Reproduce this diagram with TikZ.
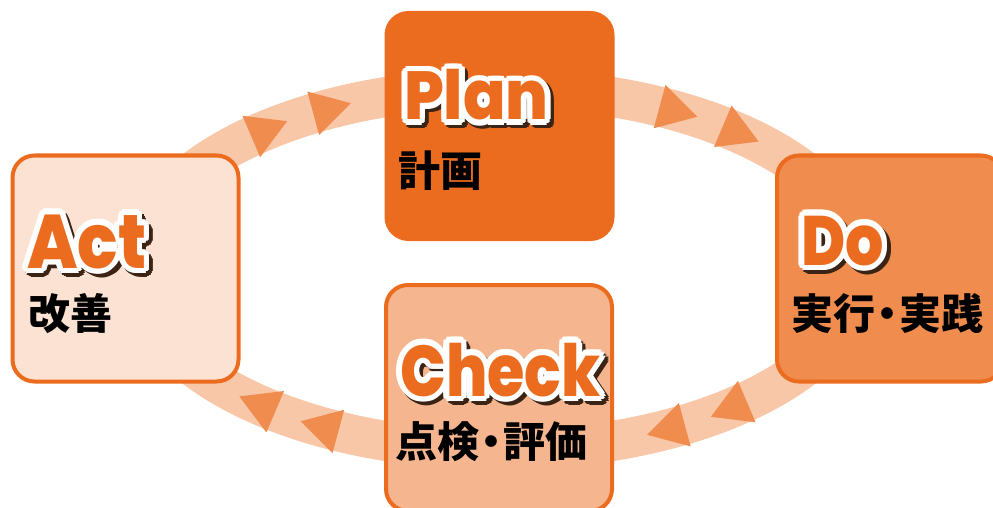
\documentclass[tikz,border=0pt]{standalone}
\usepackage{fontspec}
\newfontfamily\jpfont{Noto Sans CJK JP}
\newfontfamily\headfont{Poppins ExtraBold}
\usepackage{tikz}
\usetikzlibrary{calc}
\definecolor{mainorange}{HTML}{EC6C1F}
\definecolor{dofill}{HTML}{F08C4E}
\definecolor{checkfill}{HTML}{F5B68F}
\definecolor{actfill}{HTML}{FCE2D3}
\definecolor{ringfill}{HTML}{F8C7A7}
\definecolor{shadowbrown}{HTML}{3C2415}
\tikzset{
  phase/.style={draw=mainorange, line width=4pt, rounded corners=22pt,
    minimum width=226pt, minimum height=226pt},
  headtext/.style={anchor=base west, inner sep=0pt},
  jptext/.style={anchor=base west, inner sep=0pt,
    font=\jpfont\bfseries\fontsize{42}{42}\selectfont},
  ring/.style={draw=ringfill, line width=40pt},
  marker/.style={fill=dofill},
}
\newcommand{\jpdot}{\kern-9pt・\kern-9pt}
% heading with white outline and brown shadow: name, position, size, xscale, text
\newcommand{\phaselabel}[5]{%
  \foreach \a in {0,22.5,...,337.5}
    \node[headtext, text=shadowbrown, font=\headfont\fontsize{#3}{#3}\selectfont]
      at ($(#2)+(3.5,3.5)+(\a:5.5)$) {\scalebox{#4}[1]{#5}};
  \foreach \a in {0,22.5,...,337.5}
    \node[headtext, text=white, font=\headfont\fontsize{#3}{#3}\selectfont]
      at ($(#2)+(\a:5.5)$) {\scalebox{#4}[1]{#5}};
  \node[headtext, text=mainorange, font=\headfont\fontsize{#3}{#3}\selectfont]
    (#1) at (#2) {\scalebox{#4}[1]{#5}};
}

\begin{document}
\begin{tikzpicture}[x=1pt, y=-1pt]
    \useasboundingbox (0,0) rectangle (993,508);
    \clip (0,0) rectangle (993,508);

    % cycle ring and arrow marks
    \draw[ring] (499,269) ellipse [x radius=363, y radius=181];
    \foreach \t in {49.5,61.5,118.5,130.5,-49.5,-61.5,-118.5,-130.5} {
        \coordinate (m) at ({499+363*cos(\t)},{269-181*sin(\t)});
        \pgfmathsetmacro\th{atan2(181*cos(\t),363*sin(\t))}
        \fill[marker] ($(m)+(\th:26)$) -- ($(m)+(\th+120:26)$)
            -- ($(m)+(\th-120:26)$) -- cycle;
    }

    % phase boxes
    \node[phase, fill=mainorange] (plan)  at (499.5,126) {};
    \node[phase, fill=dofill]     (do)    at (890,268.5) {};
    \node[phase, fill=checkfill]  (check) at (499,398)   {};
    \node[phase, fill=actfill]    (act)   at (125.5,268.5) {};

    % labels
    \coordinate (plan-at)  at (404,120);
    \coordinate (do-at)    at (801,265);
    \coordinate (check-at) at (400,396);
    \coordinate (act-at)   at (27,268);
    \phaselabel{plan-head}{plan-at}{68}{0.92}{Plan}
    \phaselabel{do-head}{do-at}{70}{0.86}{Do}
    \phaselabel{check-head}{check-at}{72}{0.84}{Check}
    \phaselabel{act-head}{act-at}{76}{0.88}{Act}

    \node[jptext] (plan-jp)  at (398,186) {計画};
    \node[jptext] (do-jp)    at (791,329) {実行\jpdot 実践};
    \node[jptext] (check-jp) at (395,457) {点検\jpdot 評価};
    \node[jptext] (act-jp)   at (28,329)  {改善};
\end{tikzpicture}
\end{document}
